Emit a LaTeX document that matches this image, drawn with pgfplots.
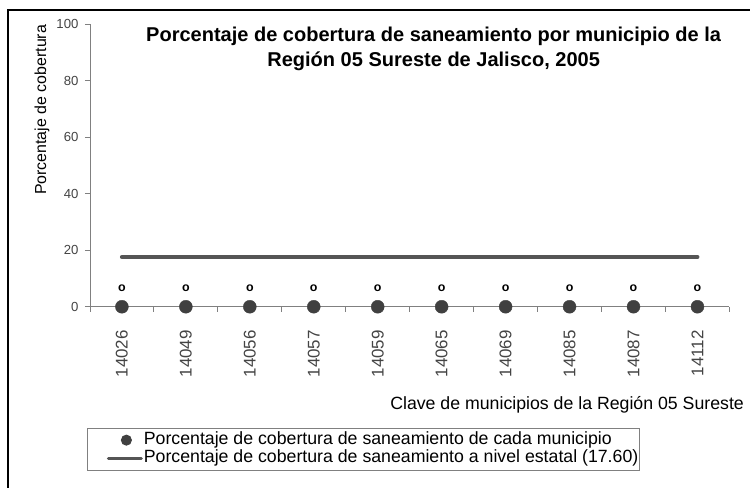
\documentclass[border=0pt]{standalone}
\usepackage{pgfplots}
\pgfplotsset{compat=1.18}
\usepackage{fontspec}
\setmainfont{Liberation Sans}
\definecolor{axgray}{HTML}{808080}
\definecolor{dotgray}{HTML}{404040}
\definecolor{linegray}{HTML}{555555}
\definecolor{txtgray}{HTML}{444444}
\begin{document}
\begin{tikzpicture}[x=1bp,y=1bp]
\path[fill=white] (0,0) rectangle (751,488);
\draw[black, line width=1.2bp] (8,0) -- (8,478) -- (751,478);
\begin{axis}[
  at={(90bp,181bp)}, anchor=south west,
  scale only axis, width=640bp, height=283bp,
  xmin=-0.5, xmax=9.5, ymin=0, ymax=100,
  axis lines*=left,
  axis line style={axgray, line width=0.8bp},
  tick align=outside,
  ytick={0,20,40,60,80,100},
  major tick length=5bp,
  tick style={axgray, line width=0.8bp},
  yticklabel style={txtgray, font=\fontsize{13.2}{13.2}\selectfont, xshift=-3bp},
  /pgf/number format/assume math mode=true,
  xtick={0,...,9},
  xticklabels={14026,14049,14056,14057,14059,14065,14069,14085,14087,14112},
  xtick style={draw=none},
  xticklabel style={rotate=90, anchor=east, txtgray, font=\fontsize{17}{17}\selectfont},
  xticklabel shift=15bp,
  extra x ticks={-0.5,0.5,1.5,2.5,3.5,4.5,5.5,6.5,7.5,8.5,9.5},
  extra x tick labels={},
  extra x tick style={xtick style={draw=axgray, line width=0.8bp}},
  clip=false,
  legend style={at={(-0.0047,-0.4276)}, anchor=north west, draw=axgray, line width=1bp,
    font=\fontsize{17.8}{20}\selectfont, inner xsep=0bp, inner ysep=3bp,
    nodes={inner xsep=1bp, inner ysep=0bp, text height=13bp, text depth=5bp},
    row sep=0bp, cells={anchor=west}},
  legend cell align=left,
]
\addplot[only marks, mark=*, mark size=6.5bp, mark options={fill=dotgray, draw=dotgray},
  nodes near coords={o}, every node near coord/.style={font=\bfseries\fontsize{12.5}{12.5}\selectfont, black, yshift=12bp},
  legend image code/.code={\path[draw=none, fill=none] (-21bp,0) -- (33bp,0); \fill[dotgray] (18bp,0) circle (5bp);}]
  coordinates {(0,0) (1,0) (2,0) (3,0) (4,0) (5,0) (6,0) (7,0) (8,0) (9,0)};
\addlegendentry{Porcentaje de cobertura de saneamiento de cada municipio}
\addplot[linegray, line width=4bp, line cap=round, mark=none,
  legend image code/.code={\path[draw=none, fill=none] (-21bp,0) -- (33bp,0); \draw[linegray, line width=3bp] (0,0) -- (33bp,0);}]
  coordinates {(0,17.6) (9,17.6)};
\addlegendentry{Porcentaje de cobertura de saneamiento a nivel estatal (17.60)\hspace{36bp}}
\end{axis}
\node[font=\bfseries\fontsize{20.1}{25}\selectfont, anchor=base, black] at (434,446)
  {Porcentaje de cobertura de saneamiento por municipio de la};
\node[font=\bfseries\fontsize{20.1}{25}\selectfont, anchor=base, black] at (434,421)
  {Región 05 Sureste de Jalisco, 2005};
\node[font=\fontsize{16}{16}\selectfont, rotate=90, black] at (42,378) {Porcentaje de cobertura};
\node[font=\fontsize{17.8}{17.8}\selectfont, anchor=base east, black] at (748,78) {Clave de municipios de la Región 05 Sureste};
\end{tikzpicture}
\end{document}
